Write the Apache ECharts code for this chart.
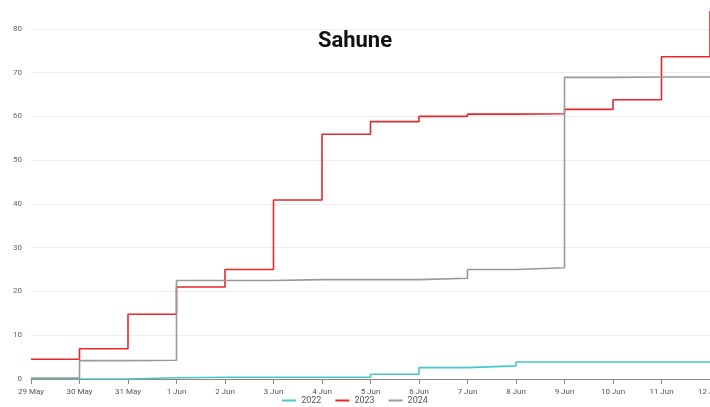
<!DOCTYPE html>
<html>
<head>
<meta charset="utf-8">
<script src="https://cdn.jsdelivr.net/npm/echarts@6/dist/echarts.min.js"></script>
<style>
  html, body { margin: 0; padding: 0; background: #fff; }
  .chart { width: 710px; height: 407px; }
</style>
</head>
<body>
<div class="chart"></div>
<script>
const days = ['29 May', '30 May', '31 May', '1 Jun', '2 Jun', '3 Jun', '4 Jun', '5 Jun',
  '6 Jun', '7 Jun', '8 Jun', '9 Jun', '10 Jun', '11 Jun', '12 Jun'];
const rain2022 = [0, 0, 0.3, 0.4, 0.4, 0.4, 0.4, 1.1, 2.6, 3.0, 3.9, 3.9, 3.9, 3.9, 3.9];
const rain2023 = [4.5, 6.9, 14.8, 21.0, 25.0, 40.9, 55.9, 58.8, 60.0, 60.5, 60.6, 61.6, 63.8, 73.6, 84.0];
const rain2024 = [0.2, 4.2, 4.3, 22.5, 22.5, 22.7, 22.7, 22.7, 23.0, 25.0, 25.4, 68.9, 69.0, 69.0, 69.0];
const yTicks = [0, 10, 20, 30, 40, 50, 60, 70, 80, 90];

(function () {
  let myChart = echarts.init(document.querySelector('.chart'));

  function stepLine(name, data, color) {
    return {
      name: name,
      type: 'line',
      step: 'end',
      data: data,
      symbol: 'none',
      lineStyle: { color: color, width: 1.6 },
      itemStyle: { color: color }
    };
  }

  let option = {
    animation: false,
    title: {
      text: 'Sahune',
      left: 'center',
      top: 25,
      textStyle: { fontFamily: 'Roboto', fontWeight: 'bold', fontSize: 22, color: '#111' }
    },
    legend: {
      bottom: -3,
      left: 'center',
      itemWidth: 14,
      itemHeight: 2,
      itemGap: 14,
      icon: 'rect',
      textStyle: { fontSize: 9, color: '#555', fontFamily: 'Roboto' },
      data: ['2022', '2023', '2024']
    },
    grid: {
      left: 31,
      right: 0,
      top: -15,
      bottom: 28,
      outerBoundsMode: 'none',
      containLabel: false
    },
    xAxis: {
      type: 'category',
      data: days,
      boundaryGap: false,
      axisLine: { lineStyle: { color: '#888', width: 1 } },
      axisTick: { show: true, length: 5, lineStyle: { color: '#888' } },
      axisLabel: { fontSize: 8, color: '#555', margin: 9, fontFamily: 'Roboto' },
      splitLine: { show: false }
    },
    yAxis: {
      type: 'value',
      min: yTicks[0],
      max: yTicks[yTicks.length - 1],
      interval: 10,
      name: 'mm',
      nameLocation: 'middle',
      nameGap: 16,
      nameTextStyle: { fontSize: 8, color: '#777' },
      axisLine: { show: false },
      axisTick: { show: false },
      axisLabel: { fontSize: 8, color: '#666', margin: 9, fontFamily: 'Roboto' },
      splitLine: { lineStyle: { color: '#eee', width: 1 } }
    },
    series: [
      stepLine('2022', rain2022, '#45c8c6'),
      stepLine('2023', rain2023, '#e8262b'),
      stepLine('2024', rain2024, '#999999')
    ]
  };

  myChart.setOption(option);
  window.addEventListener('resize', function () {
    myChart.resize();
  });
})();
</script>
</body>
</html>
